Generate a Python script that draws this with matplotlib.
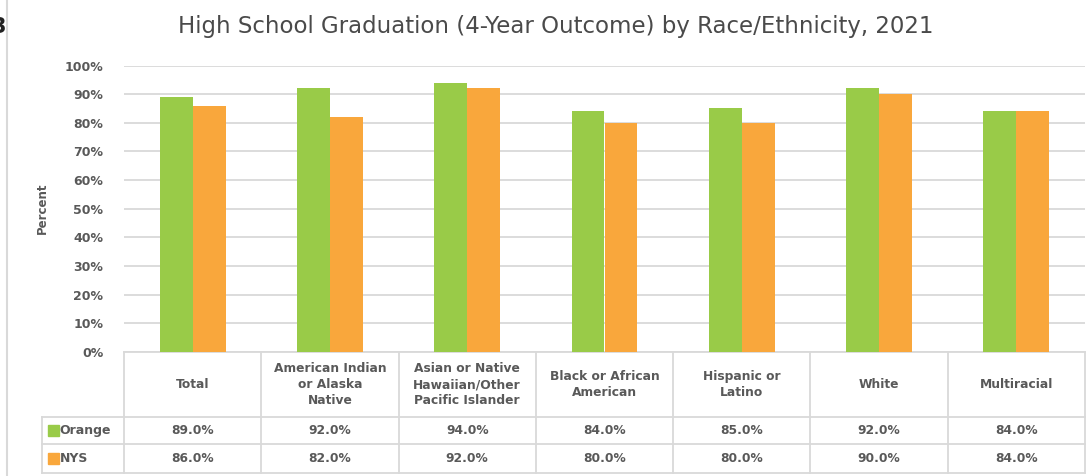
import numpy as np
import matplotlib
matplotlib.use('Agg')
import matplotlib.pyplot as plt
from matplotlib.transforms import blended_transform_factory
from matplotlib.patches import Rectangle

# Datos del gráfico
categorias = ['Total', 'American Indian\nor Alaska\nNative', 'Asian or Native\nHawaiian/Other\nPacific Islander',
              'Black or African\nAmerican', 'Hispanic or\nLatino', 'White', 'Multiracial']
orange = [89.0, 92.0, 94.0, 84.0, 85.0, 92.0, 84.0]
nys = [86.0, 82.0, 92.0, 80.0, 80.0, 90.0, 84.0]
series = ['Orange', 'NYS']
ticks_y = [0, 10, 20, 30, 40, 50, 60, 70, 80, 90, 100]

verde = '#99CB48'
naranja = '#F9A73C'
gris_texto = '#595959'
gris_linea = '#D9D9D9'

plt.rcParams['font.family'] = ['DejaVu Sans']

W, H = 1089, 476
fig = plt.figure(figsize=(W / 100, H / 100), dpi=100, facecolor='white')

# Ejes en píxeles: izquierda 124, derecha 1085, arriba 65.5, abajo 352
x0, x1, ytop, ybot = 124, 1085, 65.5, 352
ax = fig.add_axes([x0 / W, 1 - ybot / H, (x1 - x0) / W, (ybot - ytop) / H])

x = np.arange(len(categorias))
ancho = 0.24
ax.bar(x - ancho / 2, orange, width=ancho, color=verde, zorder=3)
ax.bar(x + ancho / 2, nys, width=ancho, color=naranja, zorder=3)

ax.set_xlim(-0.5, len(categorias) - 0.5)
ax.set_ylim(0, 100)
ax.set_yticks(ticks_y)
ax.set_yticklabels([f'{t}%' for t in ticks_y], fontsize=9, fontweight='bold', color=gris_texto)
ax.tick_params(axis='y', length=0, pad=15)
ax.set_xticks([])
ax.yaxis.grid(True, color=gris_linea, linewidth=1.3, zorder=0)
for s in ax.spines.values():
    s.set_visible(False)

fig.text(42 / W, 1 - 208 / H, 'Percent', rotation=90, ha='center', va='center',
         fontsize=8.5, fontweight='bold', color=gris_texto)

fig.text(556 / W, 1 - 27 / H, 'High School Graduation (4-Year Outcome) by Race/Ethnicity, 2021',
         ha='center', va='center', fontsize=16.5, color='#4A4A4A')

# Tabla de datos debajo del gráfico
trans = blended_transform_factory(ax.transData, ax.transAxes)
alto = ybot - ytop
def ya(py):
    return (ybot - py) / alto

y_fila1, y_fila2, y_fin = ya(417), ya(444), ya(473)
x_izq = -0.5 + (41.7 - x0) / ((x1 - x0) / len(categorias))
x_der = len(categorias) - 0.5
kw = dict(transform=trans, clip_on=False, color=gris_linea, linewidth=1.3)

ax.plot([-0.5, x_der], [0, 0], **kw)
for yy in (y_fila1, y_fila2, y_fin):
    ax.plot([x_izq, x_der], [yy, yy], **kw)
ax.plot([x_izq, x_izq], [y_fila1, y_fin], **kw)
for b in np.arange(len(categorias) + 1) - 0.5:
    ax.plot([b, b], [0, y_fin], **kw)

txt = dict(transform=trans, ha='center', va='center', fontweight='bold',
           color=gris_texto, clip_on=False)
for i, c in enumerate(categorias):
    ax.text(i, ya(384.5), c, linespacing=1.35, fontsize=8.8, **txt)
    ax.text(i, (y_fila1 + y_fila2) / 2, f'{orange[i]:.1f}%', fontsize=8.8, **txt)
    ax.text(i, (y_fila2 + y_fin) / 2, f'{nys[i]:.1f}%', fontsize=8.8, **txt)

# Leyenda en la columna izquierda
for nombre, col, (ya1, ya2) in zip(series, [verde, naranja], [(y_fila1, y_fila2), (y_fila2, y_fin)]):
    yc = (ya1 + ya2) / 2
    sq = 11 / alto
    ax.add_patch(Rectangle((x_izq + 6 / 137.3, yc - sq / 2), 11 / 137.3, sq, transform=trans,
                           color=col, clip_on=False))
    ax.text(x_izq + 18 / 137.3, yc, nombre, transform=trans, ha='left', va='center',
            fontsize=9, fontweight='bold', color=gris_texto, clip_on=False)

# Borde izquierdo y fragmento del número de figura
fig.add_artist(plt.Line2D([7 / W, 7 / W], [0, 1], color=gris_linea, linewidth=1.5))
fig.text(-8 / W, 1 - 27 / H, '3', ha='left', va='center', fontsize=15, fontweight='bold', color='#222222')

fig.savefig('out.png', dpi=100, facecolor='white')
